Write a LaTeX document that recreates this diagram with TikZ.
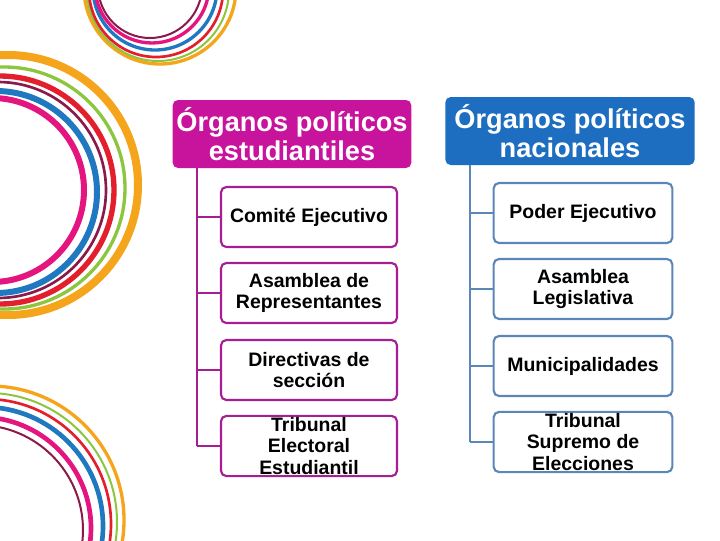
\documentclass[tikz,border=0pt]{standalone}
\usepackage{fontspec}
\setmainfont{Liberation Sans}
\usetikzlibrary{positioning}
\definecolor{magentaorg}{HTML}{C8139C}
\definecolor{magentaline}{HTML}{A51E92}
\definecolor{blueorg}{HTML}{1D6EC0}
\definecolor{blueline}{HTML}{5A86B8}
\definecolor{ringorange}{HTML}{F5A51C}
\definecolor{ringgreen}{HTML}{8CC63F}
\definecolor{ringred}{HTML}{E31E2D}
\definecolor{ringblue}{HTML}{1F78C0}
\definecolor{ringpink}{HTML}{E5157F}
\definecolor{ringwine}{HTML}{8B1A4A}
\tikzset{
  header/.style={rounded corners=4pt, text=white, font=\bfseries\fontsize{20.4}{22}\selectfont,
    align=center, minimum height=51pt, inner sep=1pt},
  leftbox/.style={draw=magentaline, line width=1.6pt, rounded corners=4pt, fill=white,
    minimum width=132pt, minimum height=45pt, align=center, inner sep=1pt,
    font=\bfseries\fontsize{14.6}{16.2}\selectfont},
  rightbox/.style={leftbox, draw=blueline, minimum width=134pt},
  branch/.style={line width=1.8pt}
}
\begin{document}
\begin{tikzpicture}[x=0.75pt,y=-0.75pt]
  \useasboundingbox (0,0) rectangle (720,540);

  % rings
  \begin{scope}
    \clip (0,0) rectangle (720,540);
    \draw[ringorange, line width=6pt] (8,185) circle (130);
    \draw[ringgreen, line width=2.5pt] (4,188) circle (121);
    \draw[ringred, line width=4pt] (0,190) circle (114);
    \draw[ringwine, line width=2pt] (-2,190) circle (108);
    \draw[ringblue, line width=4.5pt] (-4,192) circle (101);
    \draw[ringpink, line width=4.5pt] (-8,190) circle (92);
    \draw[ringorange, line width=2.5pt] (160,-12) circle (76);
    \draw[ringgreen, line width=1.5pt] (158,-10) circle (71);
    \draw[ringred, line width=2pt] (156,-10) circle (67);
    \draw[ringblue, line width=2.5pt] (155,-12) circle (62);
    \draw[ringpink, line width=2.5pt] (152,-14) circle (57);
    \draw[ringwine, line width=1.5pt] (150,-14) circle (52);
    \draw[ringorange, line width=2.5pt] (-10,520) circle (134);
    \draw[ringgreen, line width=1.5pt] (-12,522) circle (129);
    \draw[ringred, line width=2pt] (-14,524) circle (125);
    \draw[ringblue, line width=3.5pt] (-16,526) circle (119);
    \draw[ringpink, line width=3.5pt] (-20,528) circle (111);
    \draw[ringwine, line width=1.5pt] (-22,530) circle (105);
  \end{scope}

  % headers
  \node[header, fill=magentaorg, minimum width=179pt] (estud) at (292,134) {Órganos políticos\\estudiantiles};
  \node[header, fill=blueorg, minimum width=187pt] (nac) at (570,131) {Órganos políticos\\nacionales};

  % left column
  \node[leftbox] (comite) at (309,217) {Comité Ejecutivo};
  \node[leftbox] (asamrep) at (309,293) {Asamblea de\\Representantes};
  \node[leftbox] (direct) at (309,370) {Directivas de\\sección};
  \node[leftbox] (tribest) at (309,446) {Tribunal\\Electoral\\Estudiantil};

  % right column
  \node[rightbox] (poder) at (583,213) {Poder Ejecutivo};
  \node[rightbox] (asamleg) at (583,289) {Asamblea\\Legislativa};
  \node[rightbox] (munic) at (583,366) {Municipalidades};
  \node[rightbox] (tribsup) at (583,442) {Tribunal\\Supremo de\\Elecciones};

  % trunks
  \coordinate (ltop) at (197,168);
  \coordinate (lend) at (197,446);
  \coordinate (rtop) at (470,165);
  \coordinate (rend) at (470,442);
  \draw[branch, magentaline] (ltop) -- (lend);
  \draw[branch, blueline] (rtop) -- (rend);
  \foreach \n in {comite,asamrep,direct,tribest}
    \draw[branch, magentaline] (\n.west) -- (ltop |- \n.west);
  \foreach \n in {poder,asamleg,munic,tribsup}
    \draw[branch, blueline] (\n.west) -- (rtop |- \n.west);
\end{tikzpicture}
\end{document}
